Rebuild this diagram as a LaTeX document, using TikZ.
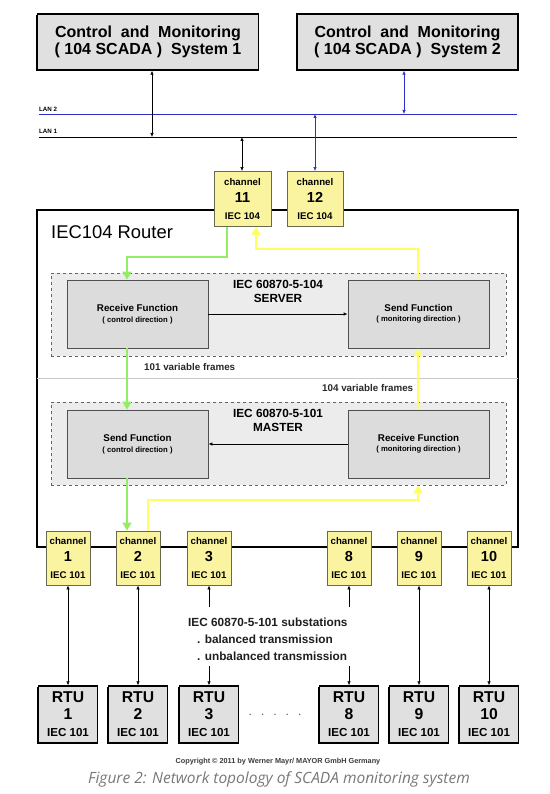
\documentclass[tikz,border=0pt]{standalone}
\usepackage{fontspec}
\setmainfont{Liberation Sans}
\newfontfamily\capfont{Open Sans}
\usepackage{xcolor}
\usetikzlibrary{arrows.meta,shadows}

\definecolor{boxgray}{RGB}{224,224,224}
\definecolor{fungray}{RGB}{220,220,220}
\definecolor{protogray}{RGB}{236,236,236}
\definecolor{chanyellow}{RGB}{250,244,160}
\definecolor{chanedge}{RGB}{105,105,80}
\definecolor{lanblue}{RGB}{45,45,200}
\definecolor{flowgreen}{RGB}{150,236,100}
\definecolor{flowyellow}{RGB}{255,255,100}
\newcommand\fnsub{\fontsize{7.7}{9}\selectfont}
\newcommand\chnum{\fontsize{14.5}{17}\selectfont}

\begin{document}
\begin{tikzpicture}[x=1pt,y=1pt,yscale=-1,xscale=1,
    sysbox/.style={draw=black,line width=1.3pt,fill=boxgray,minimum width=221pt,minimum height=56pt,align=center,inner sep=0pt,
        font=\fontsize{16}{17}\selectfont\bfseries,general shadow={fill=black,shadow xshift=-1.4pt,shadow yshift=-1.4pt}},
    rtubox/.style={draw=black,line width=1.3pt,fill=boxgray,minimum width=59pt,minimum height=57pt,align=center,inner sep=0pt,
        font=\fontsize{15.7}{17}\selectfont\bfseries,general shadow={fill=black,shadow xshift=-1.4pt,shadow yshift=-1.4pt}},
    chanbox/.style={draw=chanedge,line width=0.8pt,fill=chanyellow,minimum height=55pt,align=center,inner sep=0pt,
        font=\fontsize{9.7}{17}\selectfont\bfseries},
    funcbox/.style={draw={rgb,255:red,80;green,80;blue,80},line width=0.8pt,fill=fungray,minimum width=141pt,minimum height=68pt,
        align=center,inner sep=0pt,font=\fontsize{9.8}{10.5}\selectfont\bfseries},
    protobox/.style={draw={rgb,255:red,100;green,100;blue,100},dashed,line width=0.7pt,fill=protogray,minimum width=455pt,minimum height=83pt},
    prototxt/.style={align=center,inner sep=0pt,font=\fontsize{11.8}{14}\selectfont\bfseries},
    frametxt/.style={inner sep=0pt,font=\fontsize{9.8}{11}\selectfont\bfseries,color={rgb,255:red,40;green,40;blue,40}},
    substxt/.style={inner sep=0pt,font=\fontsize{11.8}{13}\selectfont\bfseries,color={rgb,255:red,30;green,30;blue,30}},
    lantxt/.style={inner sep=0pt,font=\fontsize{6.2}{7}\selectfont\bfseries},
    bidir/.style={line width=0.6pt,{Latex[length=4pt,width=3.4pt]}-{Latex[length=4pt,width=3.4pt]}},
    onedir/.style={line width=0.6pt,-{Latex[length=4pt,width=3.4pt]}},
    greenflow/.style={color=flowgreen,line width=1.6pt,-{Triangle[length=8pt,width=9pt]}},
    yellowflow/.style={color=flowyellow,line width=1.6pt,-{Triangle[length=8pt,width=9pt]}}
    ]
            \useasboundingbox (0,0) rectangle (549,794);
                % Control systems
                \node [sysbox] (sys1) at (148,42) {Control\ \ and\ \ Monitoring\\( 104 SCADA )\ \ System 1};
                \node [sysbox] (sys2) at (407.5,42) {Control\ \ and\ \ Monitoring\\( 104 SCADA )\ \ System 2};
                
                %Straight Lines: LAN 2 and LAN 1
                \coordinate (lan2w) at (39,114);
                \coordinate (lan2e) at (517,114);
                \coordinate (lan1w) at (39,137);
                \coordinate (lan1e) at (517,137);
                \draw [color=lanblue,line width=0.7pt] (lan2w) -- (lan2e);
                \draw [line width=0.8pt] (lan1w) -- (lan1e);
                % Text Node
                \node [lantxt,anchor=base west] (lan2lbl) at (39,111.5) {LAN 2};
                % Text Node
                \node [lantxt,anchor=base west] (lan1lbl) at (39,134) {LAN 1};
                
                % Router frame
                \node [draw=black,line width=2pt,fill=white,minimum width=481pt,minimum height=337pt] (router) at (277.5,378.5) {};
                \node [anchor=west,inner sep=0pt,font=\fontsize{18.4}{20}\selectfont] (rtrlbl) at (51,232) {IEC104 Router};
                \draw [color={rgb,255:red,200;green,200;blue,200},line width=0.6pt] ([xshift=1pt]router.west) -- ([xshift=-1pt]router.east);
                
                % Channels 11 and 12
                \node [chanbox,minimum width=57pt] (ch11) at (242.5,199) {channel\\{\chnum 11}\\IEC 104};
                \node [chanbox,minimum width=56pt] (ch12) at (315,199) {channel\\{\chnum 12}\\IEC 104};
                \coordinate (tap1) at (152,137);
                \coordinate (tap2) at (404,114);
                \coordinate (tap11) at (242,137);
                \coordinate (tap12) at (315,114);
                \draw [bidir] (tap1 |- sys1.south) -- (tap1);
                \draw [bidir,color=lanblue] (tap2 |- sys2.south) -- (tap2);
                \draw [bidir] (tap11) -- (tap11 |- ch11.north);
                \draw [bidir,color=lanblue] (tap12) -- (tap12 |- ch12.north);
                
                % IEC 60870-5-104 server
                \node [protobox] (srv) at (278.5,314.5) {};
                \node [prototxt] (srvlbl) at (278,291) {IEC 60870-5-104\\SERVER};
                \node [funcbox] (srvrx) at (137.5,314) {Receive Function\\{\fnsub ( control direction )}};
                \node [funcbox] (srvtx) at (418.5,314) {Send Function\\{\fnsub ( monitoring direction )}};
                \draw [onedir,line width=0.8pt] (srvrx) -- (srvtx);
                
                % Text Node
                \node [frametxt,anchor=west] (frm101) at (144,367) {101 variable frames};
                % Text Node
                \node [frametxt,anchor=west] (frm104) at (322,388) {104 variable frames};
                
                % IEC 60870-5-101 master
                \node [protobox] (mst) at (278.5,443.5) {};
                \node [prototxt] (mstlbl) at (278,420.5) {IEC 60870-5-101\\MASTER};
                \node [funcbox] (msttx) at (137.5,444) {Send Function\\{\fnsub ( control direction )}};
                \node [funcbox] (mstrx) at (418.5,444) {Receive Function\\{\fnsub ( monitoring direction )}};
                \draw [onedir,line width=0.8pt] (mstrx) -- (msttx);
                
                % Channels 1 .. 10
                \node [chanbox,minimum width=44pt,minimum height=54pt] (ch1) at (68,558) {channel\\{\chnum 1}\\IEC 101};
                \node [chanbox,minimum width=44pt,minimum height=54pt] (ch2) at (138,558) {channel\\{\chnum 2}\\IEC 101};
                \node [chanbox,minimum width=44pt,minimum height=54pt] (ch3) at (209,558) {channel\\{\chnum 3}\\IEC 101};
                \node [chanbox,minimum width=44pt,minimum height=54pt] (ch8) at (349,558) {channel\\{\chnum 8}\\IEC 101};
                \node [chanbox,minimum width=44pt,minimum height=54pt] (ch9) at (419,558) {channel\\{\chnum 9}\\IEC 101};
                \node [chanbox,minimum width=44pt,minimum height=54pt] (ch10) at (489,558) {channel\\{\chnum 10}\\IEC 101};
                
                %Green flow: control direction
                \coordinate (gA) at (227,257);
                \coordinate (gB) at (127,257);
                \draw [greenflow] (ch11.south -| gA) -- (gA) -- (gB) -- (srvrx.north -| gB);
                \draw [greenflow] (srvrx.south -| gB) -- (msttx.north -| gB);
                \draw [greenflow] (msttx.south -| gB) -- (ch2.north -| gB);
                %Yellow flow: monitoring direction
                \coordinate (yA) at (418,249);
                \coordinate (yB) at (256,249);
                \coordinate (yC) at (148,500);
                \coordinate (yD) at (418,500);
                \draw [yellowflow] (ch2.north -| yC) -- (yC) -- (yD) -- (mst.south -| yD);
                \draw [yellowflow] (mstrx.north -| yA) -- (srvtx.south -| yA);
                \draw [yellowflow] (srvtx.north -| yA) -- (yA) -- (yB) -- (ch11.south -| yB);
                
                % RTUs
                \node [rtubox] (rtu1) at (68,714.5) {RTU\\1\\{\fontsize{11.6}{13}\selectfont IEC 101}};
                \node [rtubox] (rtu2) at (138,714.5) {RTU\\2\\{\fontsize{11.6}{13}\selectfont IEC 101}};
                \node [rtubox] (rtu3) at (209,714.5) {RTU\\3\\{\fontsize{11.6}{13}\selectfont IEC 101}};
                \node [rtubox] (rtu8) at (349,714.5) {RTU\\8\\{\fontsize{11.6}{13}\selectfont IEC 101}};
                \node [rtubox] (rtu9) at (419,714.5) {RTU\\9\\{\fontsize{11.6}{13}\selectfont IEC 101}};
                \node [rtubox] (rtu10) at (489,714.5) {RTU\\10\\{\fontsize{11.6}{13}\selectfont IEC 101}};
                \node [font=\fontsize{12}{13}\selectfont,color={rgb,255:red,90;green,90;blue,90}] (dots) at (275,715) {.\hskip9pt.\hskip9pt.\hskip9pt.\hskip9pt.};
                
                %Straight Lines: serial links
                \draw [bidir] (ch1) -- (rtu1);
                \draw [bidir] (ch2) -- (rtu2);
                \draw [bidir] (ch9) -- (rtu9);
                \draw [bidir] (ch10) -- (rtu10);
                \coordinate (sub3a) at (209,607);
                \coordinate (sub3b) at (209,666);
                \coordinate (sub8a) at (349,607);
                \coordinate (sub8b) at (349,666);
                \draw [onedir] (sub3a) -- (ch3);
                \draw [onedir] (sub3b) -- (rtu3);
                \draw [onedir] (sub8a) -- (ch8);
                \draw [onedir] (sub8b) -- (rtu8);
                
                % Text Node
                \node [substxt,anchor=base west] (subs1) at (188,626.5) {IEC 60870-5-101 substations};
                % Text Node
                \node [substxt,anchor=base west] (subs2) at (197,643.5) {. balanced transmission};
                % Text Node
                \node [substxt,anchor=base west] (subs3) at (197,660.5) {. unbalanced transmission};
                
                % Text Node
                \node [inner sep=0pt,font=\fontsize{7.3}{8}\selectfont\bfseries,color={rgb,255:red,60;green,60;blue,60}] (copy) at (278,762) {Copyright \textcopyright{} 2011 by Werner Mayr/ MAYOR GmbH Germany};
                % Text Node
                \node [inner sep=0pt,font=\capfont\itshape\fontsize{15.5}{17}\selectfont,color={rgb,255:red,120;green,120;blue,120}] (caption) at (279,779) {Figure 2: Network topology of SCADA monitoring system};
            \end{tikzpicture}
\end{document}
